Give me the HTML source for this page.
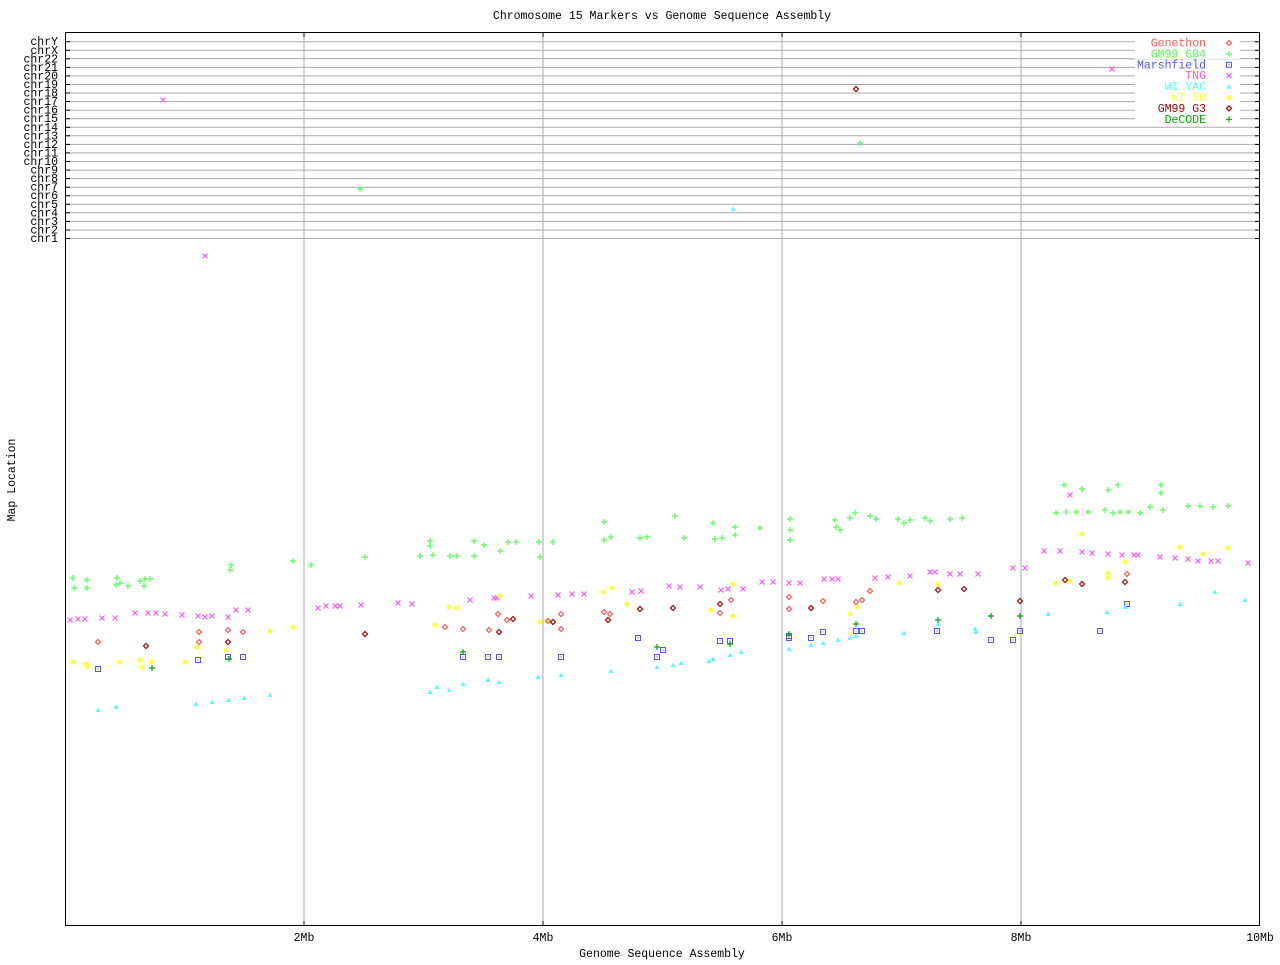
<!DOCTYPE html>
<html><head><meta charset="utf-8"><style>
html,body{margin:0;padding:0;background:#fff;}
svg text{font-family:"Liberation Mono","DejaVu Sans Mono",monospace;font-size:11.5px;}
</style></head><body>
<svg id="s" width="1280" height="960" xmlns="http://www.w3.org/2000/svg">
<rect width="1280" height="960" fill="#fff"/>
<text x="662" y="19" text-anchor="middle">Chromosome 15 Markers vs Genome Sequence Assembly</text>
<text x="662" y="957" text-anchor="middle">Genome Sequence Assembly</text>
<text transform="translate(15,480) rotate(-90)" text-anchor="middle">Map Location</text>
<g id="g"></g>
</svg>
<script>
var g=document.getElementById('g'),h='';
var L=65,R=1260,T=32,B=926;
var chrs=['chrY','chrX','chr22','chr21','chr20','chr19','chr18','chr17','chr16','chr15','chr14','chr13','chr12','chr11','chr10','chr9','chr8','chr7','chr6','chr5','chr4','chr3','chr2','chr1'];
for(var i=0;i<24;i++){var y=(41.7+i*8.557).toFixed(1);
h+='<line x1="'+L+'" x2="'+R+'" y1="'+y+'" y2="'+y+'" stroke="#aaa"/>';
h+='<line x1="'+L+'" x2="'+(L+5)+'" y1="'+y+'" y2="'+y+'" stroke="#000"/><line x1="'+(R-5)+'" x2="'+R+'" y1="'+y+'" y2="'+y+'" stroke="#000"/>';
h+='<text x="58" y="'+(+y+3.5)+'" text-anchor="end">'+chrs[i]+'</text>';}
var xs=[304,543,782,1021];
for(var i=0;i<4;i++){h+='<line x1="'+xs[i]+'" x2="'+xs[i]+'" y1="'+T+'" y2="'+B+'" stroke="#aaa"/>';
h+='<line x1="'+xs[i]+'" x2="'+xs[i]+'" y1="'+(B-5)+'" y2="'+B+'" stroke="#000"/><line x1="'+xs[i]+'" x2="'+xs[i]+'" y1="'+T+'" y2="'+(T+5)+'" stroke="#000"/>';
h+='<text x="'+xs[i]+'" y="941" text-anchor="middle">'+(2*(i+1))+'Mb</text>';}
h+='<text x="1260" y="941" text-anchor="middle">10Mb</text>';
h+='<rect x="'+(L+0.5)+'" y="'+(T+0.5)+'" width="'+(R-L-1)+'" height="'+(B-T-1)+'" fill="none" stroke="#000"/>';
function mk(t,x,y,c){
 if(t=='d')return '<path d="M'+x+' '+(y-2.5)+'L'+(x+2.5)+' '+y+'L'+x+' '+(y+2.5)+'L'+(x-2.5)+' '+y+'Z" fill="none" stroke="'+c+'" stroke-width="1.2"/>';
 if(t=='p')return '<path d="M'+(x-3)+' '+y+'H'+(x+3)+'M'+x+' '+(y-3)+'V'+(y+3)+'" stroke="'+c+'" stroke-width="1.2"/>';
 if(t=='s')return '<rect x="'+(x-2.5)+'" y="'+(y-2.5)+'" width="5" height="5" fill="none" stroke="'+c+'"/><rect x="'+(x-0.5)+'" y="'+(y-0.5)+'" width="1" height="1" fill="'+c+'"/>';
 if(t=='x')return '<path d="M'+(x-2.5)+' '+(y-2.5)+'L'+(x+2.5)+' '+(y+2.5)+'M'+(x+2.5)+' '+(y-2.5)+'L'+(x-2.5)+' '+(y+2.5)+'" stroke="'+c+'" stroke-width="1.2"/>';
 if(t=='t')return '<path d="M'+x+' '+(y-2.5)+'L'+(x+2.5)+' '+(y+2)+'L'+(x-2.5)+' '+(y+2)+'Z" fill="'+c+'"/>';
 if(t=='a')return '<circle cx="'+x+'" cy="'+y+'" r="2.6" fill="'+c+'"/>';
}
var S=[
['p','#55ff55',[73,578,74,588,87,580,87,588,117,578,120,583,128,586,140,581,145,579,144,586,231,565,230,570,293,561,365,557,360,189,420,556,430,541,430,546,433,555,450,556,457,556,474,541,474,556,484,545,508,542,516,542,539,542,540,557,553,542,604,522,604,540,611,537,640,538,647,537,675,516,684,538,715,539,722,538,735,535,760,528,790,519,790,530,835,520,836,527,840,530,850,518,870,516,876,519,898,519,904,523,910,520,930,521,950,519,962,518,1056,513,1066,512,1076,512,1082,489,1088,512,1105,510,1108,490,1113,513,1120,512,1128,512,1140,513,1150,507,1163,510,1188,506,1200,506,1228,506,311,565,500,551,713,523,735,527,790,540,855,513,860,143,925,518,1064,485,1118,485,1161,485,1161,493,1213,507,116,585,150,579]],
['x','#ff55ff',[70,620,78,619,85,619,102,618,115,618,135,613,148,613,165,614,182,615,198,616,205,617,212,616,228,617,236,610,248,610,163,100,205,256,318,608,326,606,335,606,361,605,398,603,412,604,470,600,494,598,531,596,558,595,572,594,584,594,632,592,641,591,669,586,680,587,700,587,721,590,728,589,743,589,762,582,773,582,789,583,800,583,824,579,832,579,838,579,875,578,888,577,910,576,930,572,935,572,950,574,960,574,978,574,1013,568,1025,568,1044,551,1060,551,1070,495,1082,552,1092,553,1108,554,1122,555,1134,555,1138,555,1160,557,1175,558,1188,559,1198,561,1211,561,1218,561,1248,563,1112,69,156,613,340,606,497,598]],
['a','#ffff44',[73,662,86,664,88,666,120,662,140,660,142,667,152,662,185,662,197,647,226,650,270,631,293,627,435,625,449,607,457,608,500,596,540,622,548,621,603,592,612,588,627,604,711,610,733,584,733,616,850,614,857,607,899,583,938,584,1056,583,1070,581,1082,534,1108,573,1108,578,1125,562,1180,547,1203,554,1228,548]],
['d','#ff5555',[98,642,199,632,199,642,228,630,243,632,445,627,463,629,489,630,498,614,507,620,548,621,561,629,561,614,604,612,610,614,720,613,731,600,789,597,789,609,823,601,856,602,862,600,870,591,1127,574]],
['d','#aa0000',[146,646,228,642,365,634,513,619,553,622,720,604,938,590,964,589,1082,584,1065,580,1125,582,1020,601,499,632,608,620,640,609,673,608,811,608,856,89]],
['s','#5555ff',[98,669,198,660,228,657,243,657,463,657,488,657,499,657,561,657,638,638,657,657,663,650,720,641,730,641,789,636,789,638,811,638,823,632,856,631,862,631,937,631,991,640,1013,640,1020,631,1100,631,1127,604]],
['t','#55ffff',[98,710,116,707,196,704,212,702,228,700,244,698,270,695,430,692,437,687,449,690,463,684,488,680,499,682,538,677,561,675,611,671,657,667,673,665,681,663,709,661,713,659,730,655,741,652,789,649,811,645,823,643,838,640,850,638,856,636,904,633,938,624,975,629,976,632,1048,614,1107,612,1125,607,1180,604,1215,592,1245,600,733,209]],
['p','#00aa00',[152,668,229,659,463,652,657,647,730,644,789,634,856,624,938,620,991,616,1020,616]]
];
for(var k=0;k<S.length;k++){var a=S[k][2];for(var j=0;j<a.length;j+=2)h+=mk(S[k][0],a[j],a[j+1],S[k][1]);}
var leg=[['Genethon','#ff5555','d','#ff5555'],['GM99 GB4','#55ff55','p','#55ff55'],['Marshfield','#5555ff','s','#5555ff'],['TNG','#ff55ff','x','#ff55ff'],['WI YAC','#55ffff','t','#55ffff'],['WI RH','#ffff44','a','#ffff44'],['GM99 G3','#aa0000','d','#aa0000'],['DeCODE','#00aa00','p','#00aa00']];
for(var i=0;i<8;i++){var y=43+i*10.9;
h+='<rect x="1135" y="'+(y-5)+'" width="105" height="10" fill="#fff"/>';
h+='<text x="1206" y="'+(y+3.5)+'" text-anchor="end" fill="'+leg[i][1]+'">'+leg[i][0]+'</text>';
h+=mk(leg[i][2],1229,y,leg[i][3]);}
g.innerHTML=h;
</script>
</body></html>
